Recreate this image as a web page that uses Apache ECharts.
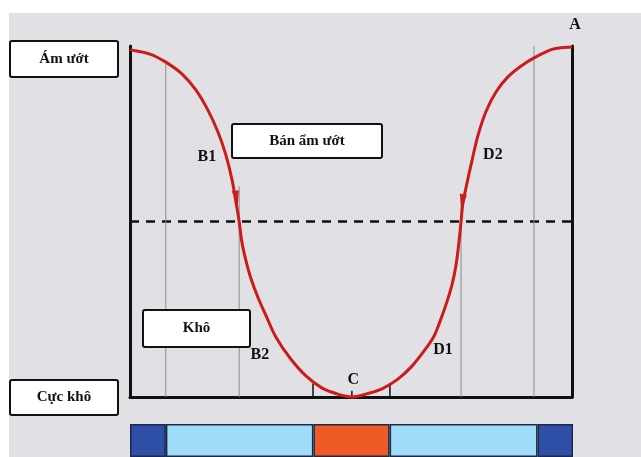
<!DOCTYPE html>
<html>
<head>
<meta charset="utf-8">
<script src="https://cdn.jsdelivr.net/npm/echarts@6/dist/echarts.min.js"></script>
<style>
  html, body { margin: 0; padding: 0; background: #fff; }
  #main { width: 641px; height: 457px; }
</style>
</head>
<body>
<div id="main"></div>
<script>
var chartDom = document.getElementById('main');
var myChart = echarts.init(chartDom);

// humidity curve (x: position 0-100, y: humidity 0-100)
const curve = [
  [0, 98.9], [4.5, 97.7], [8.1, 95.4], [11.8, 92.0], [14.9, 87.5], [17.6, 81.8],
  [19.9, 75.5], [21.7, 68.9], [23.1, 61.8], [24.0, 55.3], [24.7, 50.0],
  [25.3, 44.2], [26.2, 39.0], [27.4, 33.6], [29.0, 28.2], [30.8, 23.1],
  [33.0, 17.1], [36.2, 11.1], [39.8, 6.0], [43.4, 2.6], [46.8, 0.9], [50.2, 0],
  [53.6, 0.9], [57.0, 2.3], [60.6, 5.1], [63.8, 8.8], [66.7, 13.4], [68.8, 17.4],
  [70.1, 21.4], [71.7, 27.1], [72.9, 32.2], [73.8, 37.9], [74.4, 43.9],
  [74.9, 50.0], [75.3, 55.0], [76.2, 60.7], [77.4, 67.5], [78.7, 74.4],
  [80.5, 81.2], [82.8, 86.9], [85.5, 91.2], [88.5, 94.3], [91.4, 96.6],
  [95.7, 99.1], [100, 99.7]
];
const threshold = 50;
// thin vertical guides: [x, yTop]
const guides = [[8.1, 95], [24.7, 60], [74.9, 58], [91.4, 100]];
// short ticks on the base line: [x, yTop]
const baseTicks = [[41.4, 3.8], [50.2, 1.8], [58.8, 4.0]];
// arrow heads on the curve: [x, y, rotation]
const arrows = [[24.1, 56.5, 189], [75.2, 55.5, 173]];
// point labels: [x, y, text]
const pointLabels = [
  [100.7, 106, 'A'], [17.4, 68.4, 'B1'], [29.4, 12, 'B2'],
  [50.5, 4.8, 'C'], [70.8, 13.4, 'D1'], [82.1, 68.9, 'D2']
];
// zone strip under the chart
const zoneNames = ['z1', 'z2', 'z3', 'z4', 'z5'];
const zoneWidths = [8.1, 33.3, 17.2, 33.4, 8.0];
const zoneColors = ['#2f4ea6', '#9edcf7', '#ef5a27', '#9edcf7', '#2f4ea6'];
// text boxes
const boxes = [
  { text: 'Ám ướt', x: 10, y: 41, w: 108, h: 36 },
  { text: 'Bán ẩm ướt', x: 232, y: 124, w: 150, h: 34 },
  { text: 'Khô', x: 143, y: 310, w: 107, h: 37 },
  { text: 'Cực khô', x: 10, y: 380, w: 108, h: 35 }
];

const serif = '"Liberation Serif", "DejaVu Serif", serif';

const segmentSeries = (name, data, color, width) => ({
  name: name,
  type: 'custom',
  xAxisIndex: 0,
  yAxisIndex: 0,
  z: 3,
  renderItem: function (params, api) {
    const p1 = api.coord([api.value(0), api.value(1)]);
    const p2 = api.coord([api.value(0), 0]);
    return {
      type: 'line',
      shape: { x1: p1[0], y1: p1[1], x2: p2[0], y2: p2[1] },
      style: { stroke: color, lineWidth: width }
    };
  },
  data: data
});

// catmull-rom spline through the curve points, mapped by the axes
function splinePath(api) {
  const pts = curve.map(function (d) { return api.coord(d); });
  let d = 'M' + pts[0][0] + ',' + pts[0][1];
  for (let i = 0; i < pts.length - 1; i++) {
    const p0 = pts[Math.max(i - 1, 0)];
    const p1 = pts[i];
    const p2 = pts[i + 1];
    const p3 = pts[Math.min(i + 2, pts.length - 1)];
    const c1x = p1[0] + (p2[0] - p0[0]) / 6, c1y = p1[1] + (p2[1] - p0[1]) / 6;
    const c2x = p2[0] - (p3[0] - p1[0]) / 6, c2y = p2[1] - (p3[1] - p1[1]) / 6;
    d += 'C' + c1x + ',' + c1y + ',' + c2x + ',' + c2y + ',' + p2[0] + ',' + p2[1];
  }
  return d;
}

const graphics = [{
  type: 'rect', z: -100,
  shape: { x: 9, y: 13, width: 632, height: 444 },
  style: { fill: '#e1e1e5' }
}];
boxes.forEach(function (b) {
  graphics.push({
    type: 'rect', z: 100,
    shape: { x: b.x, y: b.y, width: b.w, height: b.h, r: 2 },
    style: { fill: '#ffffff', stroke: '#111111', lineWidth: 2 }
  });
  graphics.push({
    type: 'text', z: 101,
    x: b.x + b.w / 2, y: b.y + b.h / 2,
    style: {
      text: b.text, fill: '#111', font: 'bold 15px ' + serif,
      align: 'center', verticalAlign: 'middle'
    }
  });
});

const series = [
  segmentSeries('guides', guides, '#8a8a90', 1),
  segmentSeries('ticks', baseTicks, '#111', 1.5),
  {
    name: 'threshold',
    type: 'line',
    xAxisIndex: 0, yAxisIndex: 0,
    data: [[0, threshold], [100, threshold]],
    symbol: 'none',
    lineStyle: { color: '#111', width: 2.5, type: [9, 7] },
    z: 2
  },
  {
    name: 'curve',
    type: 'custom',
    xAxisIndex: 0, yAxisIndex: 0,
    data: curve,
    renderItem: function (params, api) {
      if (params.dataIndex !== 0) return null;
      return {
        type: 'path',
        shape: { pathData: splinePath(api) },
        style: { fill: 'none', stroke: '#cc1b1b', lineWidth: 3, lineJoin: 'round' }
      };
    },
    z: 4
  },
  {
    name: 'arrows',
    type: 'scatter',
    xAxisIndex: 0, yAxisIndex: 0,
    data: arrows,
    symbol: 'triangle',
    symbolSize: [7, 16],
    symbolRotate: function (v) { return v[2]; },
    itemStyle: { color: '#cc1b1b', opacity: 1 },
    z: 5
  },
  {
    name: 'labels',
    type: 'scatter',
    xAxisIndex: 0, yAxisIndex: 0,
    clip: false,
    data: pointLabels,
    symbolSize: 0,
    itemStyle: { opacity: 1 },
    label: {
      show: true,
      position: 'inside',
      formatter: function (p) { return p.value[2]; },
      color: '#111',
      fontFamily: serif,
      fontWeight: 'bold',
      fontSize: 16
    },
    z: 6
  }
];

zoneWidths.forEach(function (w, i) {
  series.push({
    name: zoneNames[i],
    type: 'bar',
    xAxisIndex: 1, yAxisIndex: 2,
    stack: 'zones',
    barWidth: '100%',
    data: [w],
    itemStyle: { color: zoneColors[i], borderColor: '#1b2a4a', borderWidth: 1.5 }
  });
});

const option = {
  animation: false,
  backgroundColor: '#ffffff',
  graphic: graphics,
  grid: [
    { left: 130, right: 69, top: 46, bottom: 60 },
    { left: 130, right: 68, top: 424, height: 36 }
  ],
  xAxis: [
    {
      type: 'value', gridIndex: 0, min: 0, max: 100,
      axisLine: { show: true, onZero: false, lineStyle: { color: '#111', width: 3 } },
      axisTick: { show: false }, axisLabel: { show: false }, splitLine: { show: false }
    },
    {
      type: 'value', gridIndex: 1, min: 0, max: 100, show: false
    }
  ],
  yAxis: [
    {
      type: 'value', gridIndex: 0, min: 0, max: 100, position: 'left',
      axisLine: { show: true, lineStyle: { color: '#111', width: 3 } },
      axisTick: { show: false }, axisLabel: { show: false }, splitLine: { show: false }
    },
    {
      type: 'value', gridIndex: 0, min: 0, max: 100, position: 'right',
      axisLine: { show: true, lineStyle: { color: '#111', width: 3 } },
      axisTick: { show: false }, axisLabel: { show: false }, splitLine: { show: false }
    },
    {
      type: 'category', gridIndex: 1, data: ['zone'], show: false
    }
  ],
  series: series
};

myChart.setOption(option);
</script>
</body>
</html>
